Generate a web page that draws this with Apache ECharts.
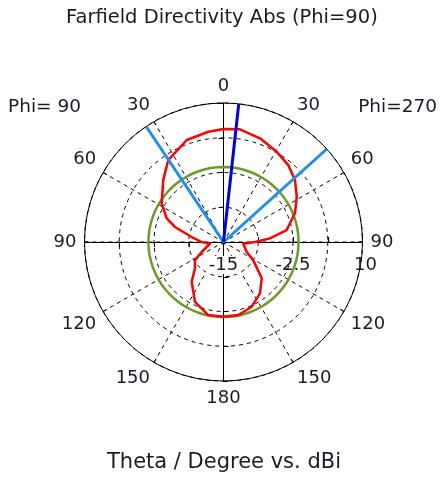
<!DOCTYPE html>
<html>
<head>
<meta charset="utf-8">
<script src="https://cdn.jsdelivr.net/npm/echarts@6/dist/echarts.min.js"></script>
<style>
  html, body { margin: 0; padding: 0; background: #fff; }
  #chart { width: 440px; height: 481px; }
</style>
</head>
<body>
<div id="chart"></div>
<script>
// Farfield directivity cut (Phi = 90 / Phi = 270), dBi.
// Angle positions run clockwise from the top: 0..180 is the Phi=270 half,
// 180..360 is the Phi=90 half (theta = 360 - position).
const farfieldAngle = [0, 8.3, 19.4, 30.5, 40.1, 49.1, 58.3, 68.1, 79.3, 85.5, 90, 94.9,
  113.3, 121.6, 133.5, 144.6, 156.4, 168.5, 180, 191.8, 205.5, 218.7, 227.3, 237.3,
  245.4, 262.8, 270, 278.9, 287.2, 292.6, 302, 315.8, 326, 340.2, 352.2, 360];
const farfieldDb = [5.32, 5.49, 4.77, 3.85, 3.09, 2.01, 0.49, -1.15, -3.44, -6.62, -9.33, -11.42,
  -10.45, -8.70, -5.52, -3.67, -2.30, -1.60, -1.56, -1.58, -3.09, -5.85, -8.02, -8.90,
  -10.68, -12.55, -11.08, -9.21, -5.86, -3.94, -1.89, 0.54, 2.77, 4.50, 5.02, 5.32];

// Side lobe level circle (dBi) and the angles it is traced through
const sideLobeLevel = -1.5;
const circleAngles = [0, 10, 20, 30, 40, 50, 60, 70, 80, 90, 100, 110, 120, 130, 140, 150, 160, 170,
  180, 190, 200, 210, 220, 230, 240, 250, 260, 270, 280, 290, 300, 310, 320, 330, 340, 350, 360];

// Main lobe direction and 3 dB angular width
const mainLobeAngle = 6.3;
const beamEdgeAngles = [326.2, 48];

// Axis ranges and tick labels
const radiusMin = -15, radiusMax = 10, radiusStep = 6.25;
const radiusLabels = [-15, -2.5, 10];
const angleTicks = [0, 30, 60, 90, 120, 150, 180, 210, 240, 270, 300, 330];
const angleTickLabels = ['0', '30', '60', '90', '120', '150', '180', '150', '120', '90', '60', '30'];

const CX = 223.5, CY = 242, R = 139;
const FONT = 'DejaVu Sans';
const TXT = '#1a1a2a';

const chart = echarts.init(document.getElementById('chart'), null, { renderer: 'canvas' });

const polars = [];
const angleAxes = [];
const radiusAxes = [];

// Polar 0: the grid itself (outer circle, dashed rings and spokes, angle labels)
polars.push({ center: [CX, CY], radius: R });
angleAxes.push({
  polarIndex: 0, type: 'value', min: 0, max: 360, interval: 30,
  startAngle: 90, clockwise: true,
  axisLine: { show: true, lineStyle: { color: '#000', width: 1 } },
  axisTick: { show: true, inside: true, length: 4, lineStyle: { color: '#000', width: 1 } },
  axisLabel: {
    show: true, margin: 8, fontFamily: FONT, fontSize: 18, color: TXT,
    formatter: v => { const i = angleTicks.indexOf(v); return i >= 0 ? angleTickLabels[i] : ''; }
  },
  splitLine: { show: true, lineStyle: { color: '#000', width: 1, type: [4, 4] } }
});
radiusAxes.push({
  polarIndex: 0, type: 'value', min: radiusMin, max: radiusMax, interval: radiusStep,
  axisLine: { show: false }, axisTick: { show: false }, axisLabel: { show: false },
  splitLine: { show: true, lineStyle: { color: '#000', width: 1, type: [4, 4] } }
});

// Polars 1..4: the four solid half axes with their ring ticks;
// the last one (pointing right) carries the dBi labels.
const halfAxes = [
  { start: 90, inside: true, labels: false },
  { start: 180, inside: true, labels: false },
  { start: 270, inside: false, labels: false },
  { start: 0, inside: false, labels: true }
];
const labelRich = {
  val: { fontFamily: FONT, fontSize: 18, color: TXT, lineHeight: 40 },
  ctr: { fontFamily: FONT, fontSize: 18, color: TXT, lineHeight: 40, backgroundColor: '#fff', padding: [0, 3] },
  end: { fontFamily: FONT, fontSize: 18, color: TXT, lineHeight: 40, padding: [0, 0, 0, 6] }
};
halfAxes.forEach((h, k) => {
  const idx = k + 1;
  polars.push({ center: [CX, CY], radius: R });
  angleAxes.push({
    polarIndex: idx, type: 'value', min: 0, max: 360, startAngle: h.start,
    axisLine: { show: false }, axisTick: { show: false }, axisLabel: { show: false },
    splitLine: { show: false }
  });
  radiusAxes.push({
    polarIndex: idx, type: 'value', min: radiusMin, max: radiusMax, interval: radiusStep,
    axisLine: { show: true, lineStyle: { color: '#000', width: 1 } },
    axisTick: { show: true, inside: h.inside, length: 5, lineStyle: { color: '#000', width: 1 } },
    axisLabel: h.labels ? {
      show: true, showMinLabel: true, showMaxLabel: true,
      margin: -3, verticalAlign: 'top', align: 'center',
      fontFamily: FONT, fontSize: 18, color: TXT, lineHeight: 40,
      formatter: v => {
        if (radiusLabels.indexOf(v) < 0) return '';
        if (v === radiusMin) return '{ctr|' + v + '}';
        if (v === radiusMax) return '{end|' + v + '}';
        return '{val|' + v + '}';
      },
      rich: labelRich
    } : { show: false },
    splitLine: { show: false }
  });
});

const lineBase = { type: 'line', coordinateSystem: 'polar', polarIndex: 0, showSymbol: false, symbol: 'none', animation: false, silent: true };

const option = {
  backgroundColor: '#fff',
  animation: false,
  title: [
    { text: 'Farfield Directivity Abs (Phi=90)', left: 66, top: 8, padding: 0,
      textStyle: { fontFamily: FONT, fontSize: 19.5, fontWeight: 'normal', color: TXT } },
    { text: 'Theta / Degree vs. dBi', left: 107, top: 452, padding: 0,
      textStyle: { fontFamily: FONT, fontSize: 21, fontWeight: 'normal', color: TXT } },
    { text: 'Phi= 90', left: 8, top: 98, padding: 0,
      textStyle: { fontFamily: FONT, fontSize: 18.5, fontWeight: 'normal', color: TXT } },
    { text: 'Phi=270', right: 3, top: 98, padding: 0,
      textStyle: { fontFamily: FONT, fontSize: 18.5, fontWeight: 'normal', color: TXT } }
  ],
  polar: polars,
  angleAxis: angleAxes,
  radiusAxis: radiusAxes,
  series: [
    Object.assign({}, lineBase, {
      name: 'side lobe level', smooth: true, z: 3,
      lineStyle: { color: '#6f9a2a', width: 2.5 },
      data: circleAngles.map(a => [sideLobeLevel, a])
    }),
    Object.assign({}, lineBase, {
      name: 'farfield', smooth: false, z: 4,
      lineStyle: { color: '#ff0000', width: 2.5, join: 'round' },
      data: farfieldAngle.map((a, i) => [farfieldDb[i], a])
    }),
    Object.assign({}, lineBase, {
      name: '3 dB angular width', z: 5,
      lineStyle: { color: '#1e8ff0', width: 3 },
      data: [[radiusMax, beamEdgeAngles[0]], [radiusMin, beamEdgeAngles[0]],
             [radiusMin, beamEdgeAngles[1]], [radiusMax, beamEdgeAngles[1]]]
    }),
    Object.assign({}, lineBase, {
      name: 'main lobe direction', z: 6,
      lineStyle: { color: '#0000ee', width: 3 },
      data: [[radiusMin, mainLobeAngle], [radiusMax, mainLobeAngle]]
    })
  ]
};

chart.setOption(option);
</script>
</body>
</html>
